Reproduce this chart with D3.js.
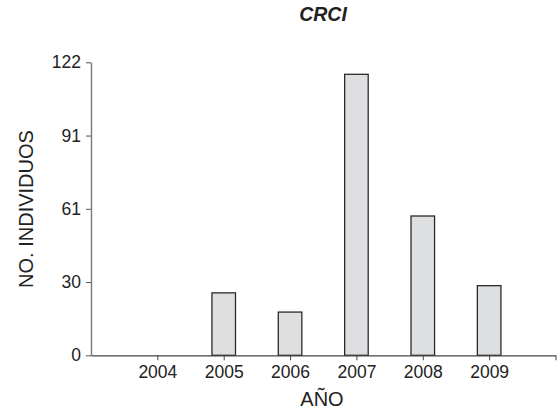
<!DOCTYPE html>
<html>
<head>
<meta charset="utf-8">
<script src="https://cdn.jsdelivr.net/npm/d3@7"></script>
<style>
  body { margin: 0; background: #fff; }
  svg { display: block; font-family: "Liberation Sans", Arial, sans-serif; }
</style>
</head>
<body>
<svg id="chart" width="557" height="412"></svg>
<script>
// data
const years = [2004, 2005, 2006, 2007, 2008, 2009];
const counts = [0, 26, 18, 117, 58, 29];
const yTicks = [0, 30.5, 61, 91.5, 122];
const yTickLabels = ['0', '30', '61', '91', '122'];
const xTicks = [2004, 2005, 2006, 2007, 2008, 2009, 2010];
const xTickLabels = ['2004', '2005', '2006', '2007', '2008', '2009', ''];

const size = { width: 557, height: 412 };
const margin = { left: 91, right: 1.5, top: 62.3, bottom: 56.7 };

const svg = d3.select('#chart');

const x = d3.scaleLinear()
  .domain([2003, 2010])
  .range([margin.left, size.width - margin.right]);

const y = d3.scaleLinear()
  .domain([0, 122])
  .range([size.height - margin.bottom, margin.top]);

const barW = (x(2004) - x(2003)) * 0.355;

// bars
svg.append('g')
  .selectAll('rect')
  .data(years.map((yr, i) => ({ yr, v: counts[i] })).filter(d => d.v > 0))
  .enter()
  .append('rect')
  .attr('x', d => x(d.yr) - barW / 2)
  .attr('y', d => y(d.v))
  .attr('width', barW)
  .attr('height', d => y(0) - y(d.v))
  .attr('fill', '#dedfe1')
  .attr('stroke', '#2a2a2a')
  .attr('stroke-width', 1.3);

// y axis
const yAxis = svg.append('g')
  .attr('transform', `translate(${margin.left},0)`)
  .call(d3.axisLeft(y).tickValues(yTicks)
    .tickFormat((d, i) => yTickLabels[i]).tickSize(5).tickPadding(5).tickSizeOuter(0));
yAxis.select('.domain').attr('stroke', '#7a7a7a').attr('stroke-width', 1.4);
yAxis.selectAll('.tick line').attr('stroke', '#555');
yAxis.selectAll('text').attr('fill', '#222').style('font-size', '17.5px');

// x axis
const xAxis = svg.append('g')
  .attr('transform', `translate(0,${y(0)})`)
  .call(d3.axisBottom(x).tickValues(xTicks)
    .tickFormat((d, i) => xTickLabels[i]).tickSize(5).tickPadding(5).tickSizeOuter(0));
xAxis.select('.domain').attr('stroke', '#444').attr('stroke-width', 1.3);
xAxis.selectAll('.tick line').attr('stroke', '#444');
xAxis.selectAll('text').attr('fill', '#222').style('font-size', '17.5px');

// title
svg.append('text')
  .attr('x', 323)
  .attr('y', 21)
  .attr('text-anchor', 'middle')
  .style('font-size', '19.5px')
  .style('font-weight', 'bold')
  .style('font-style', 'italic')
  .attr('fill', '#222')
  .text('CRCI');

// axis labels
svg.append('text')
  .attr('x', 322)
  .attr('y', 406)
  .attr('text-anchor', 'middle')
  .style('font-size', '20px')
  .attr('fill', '#222')
  .text('AÑO');

svg.append('text')
  .attr('transform', 'translate(33,209) rotate(-90)')
  .attr('text-anchor', 'middle')
  .style('font-size', '20px')
  .attr('fill', '#222')
  .text('NO. INDIVIDUOS');
</script>
</body>
</html>
